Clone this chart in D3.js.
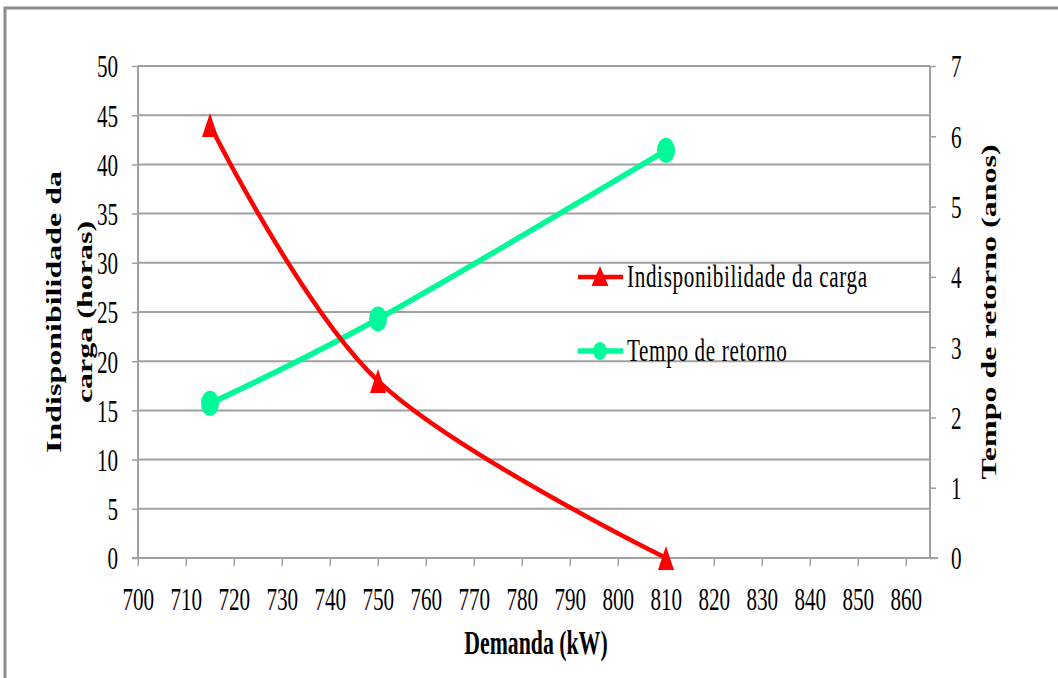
<!DOCTYPE html>
<html>
<head>
<meta charset="utf-8">
<script src="https://cdn.jsdelivr.net/npm/d3@7"></script>
<style>
  html, body { margin: 0; padding: 0; background: #fff; }
  svg { display: block; }
  text { font-family: "Liberation Serif", "Times New Roman", serif; fill: #000; }
</style>
</head>
<body>
<svg id="chart" width="1058" height="678"></svg>
<script>
// Demand (kW) at each simulated case
const demanda = [715, 750, 810];
// Load unavailability (hours) – left axis
const indisponibilidade = [44, 18, 0];
// Payback time (years) – right axis
const tempoRetorno = [2.2, 3.4, 5.8];

// Tick values
const xTicks = [700, 710, 720, 730, 740, 750, 760, 770, 780, 790, 800, 810, 820, 830, 840, 850, 860];
const yLeftTicks = [0, 5, 10, 15, 20, 25, 30, 35, 40, 45, 50];
const yRightTicks = [0, 1, 2, 3, 4, 5, 6, 7];

const seriesNames = ["Indisponibilidade da carga", "Tempo de retorno"];
const colors = { red: "#ff0000", green: "#00fa9a", grid: "#a0a0a0" };

// Everything is drawn inside a horizontally condensed group (narrow type).
const sx = 0.66;
const U = px => px / sx;          // screen px -> group units (x only)

const svg = d3.select("#chart");

// outer frame
svg.append("rect")
  .attr("x", 5).attr("y", 8).attr("width", 1070).attr("height", 700)
  .attr("fill", "#fff").attr("stroke", "#8c8c8c").attr("stroke-width", 3);

const g = svg.append("g").attr("transform", `scale(${sx},1)`);

const plotL = 138, plotR = 930, plotT = 66, plotB = 558;

const x = d3.scaleLinear().domain([700, 865]).range([U(plotL), U(plotR)]);
const yL = d3.scaleLinear().domain([0, 50]).range([plotB, plotT]);
const yR = d3.scaleLinear().domain([0, 7]).range([plotB, plotT]);

const nss = sel => sel.attr("vector-effect", "non-scaling-stroke");

// horizontal gridlines
g.append("g").selectAll("line").data(yLeftTicks).join("line")
  .attr("x1", U(plotL)).attr("x2", U(plotR))
  .attr("y1", d => yL(d)).attr("y2", d => yL(d))
  .attr("stroke", colors.grid).attr("stroke-width", 2)
  .call(nss);

function styleAxis(sel, size) {
  sel.select(".domain").remove();
  sel.selectAll(".tick line").attr("stroke", colors.grid).attr("stroke-width", 1.5)
    .attr("vector-effect", "non-scaling-stroke");
  sel.selectAll(".tick text").attr("font-size", size).attr("fill", "#000")
    .style("font-family", '"Liberation Serif", "Times New Roman", serif');
}

const fmt = d3.format("d");

// left axis
const axL = g.append("g").attr("transform", `translate(${U(plotL)},0)`)
  .call(d3.axisLeft(yL).tickValues(yLeftTicks).tickFormat(fmt)
    .tickSize(U(6)).tickPadding(U(14)).tickSizeOuter(0));
styleAxis(axL, 32);
axL.selectAll(".tick text").attr("dy", "0.34em");

// right axis
const axR = g.append("g").attr("transform", `translate(${U(plotR)},0)`)
  .call(d3.axisRight(yR).tickValues(yRightTicks).tickFormat(fmt)
    .tickSize(U(6)).tickPadding(U(15)).tickSizeOuter(0));
styleAxis(axR, 32);
axR.selectAll(".tick text").attr("dy", "0.34em");

// bottom axis
const axB = g.append("g").attr("transform", `translate(0,${plotB})`)
  .call(d3.axisBottom(x).tickValues(xTicks).tickSize(8).tickPadding(21).tickSizeOuter(0)
    .tickFormat(fmt));
styleAxis(axB, 32);

// axis lines
g.append("line").attr("x1", U(plotL)).attr("x2", U(plotL)).attr("y1", plotT).attr("y2", plotB)
  .attr("stroke", colors.grid).attr("stroke-width", 2).call(nss);
g.append("line").attr("x1", U(plotR)).attr("x2", U(plotR)).attr("y1", plotT).attr("y2", plotB)
  .attr("stroke", colors.grid).attr("stroke-width", 2).call(nss);
g.append("line").attr("x1", U(plotL - 6)).attr("x2", U(plotR + 8)).attr("y1", plotB).attr("y2", plotB)
  .attr("stroke", colors.grid).attr("stroke-width", 2).call(nss);

// series lines (smoothed)
const curve = d3.curveCatmullRom.alpha(0);
const redPts = demanda.map((d, i) => [x(d), yL(indisponibilidade[i])]);
const greenPts = demanda.map((d, i) => [x(d), yR(tempoRetorno[i])]);

g.append("path").datum(greenPts)
  .attr("d", d3.line().curve(curve))
  .attr("fill", "none").attr("stroke", colors.green).attr("stroke-width", 5.5)
  .attr("stroke-linejoin", "round").call(nss);

g.append("path").datum(redPts)
  .attr("d", d3.line().curve(curve))
  .attr("fill", "none").attr("stroke", colors.red).attr("stroke-width", 4.5)
  .attr("stroke-linejoin", "round").call(nss);

// markers
const tri = (w, h) => `M0,${-h / 2}L${w / 2},${h / 2}L${-w / 2},${h / 2}Z`;

g.append("g").selectAll("ellipse").data(greenPts).join("ellipse")
  .attr("cx", d => d[0]).attr("cy", d => d[1])
  .attr("rx", U(9)).attr("ry", 12.5).attr("fill", colors.green);

g.append("g").selectAll("path").data(redPts).join("path")
  .attr("transform", d => `translate(${d[0]},${d[1]})`)
  .attr("d", tri(U(16), 24)).attr("fill", colors.red);

// legend
const legend = g.append("g");
const legItems = [
  { name: seriesNames[0], color: colors.red, y: 277, w: 4.5, shape: "tri" },
  { name: seriesNames[1], color: colors.green, y: 351, w: 5.5, shape: "circ" }
];
legItems.forEach(it => {
  legend.append("line").attr("x1", U(578)).attr("x2", U(623))
    .attr("y1", it.y).attr("y2", it.y)
    .attr("stroke", it.color).attr("stroke-width", it.w).call(nss);
  if (it.shape === "tri") {
    legend.append("path").attr("transform", `translate(${U(600)},${it.y - 1})`)
      .attr("d", tri(U(17), 20)).attr("fill", it.color);
  } else {
    legend.append("ellipse").attr("cx", U(600)).attr("cy", it.y)
      .attr("rx", U(7)).attr("ry", 9).attr("fill", it.color);
  }
  legend.append("text").attr("x", U(627)).attr("y", it.y + 10)
    .attr("font-size", 32).attr("letter-spacing", 1).text(it.name);
});

// axis titles
g.append("text").attr("x", U(536)).attr("y", 654)
  .attr("text-anchor", "middle").attr("font-size", 33).attr("font-weight", "bold")
  .text("Demanda (kW)");

g.append("text").attr("text-anchor", "middle")
  .attr("font-size", 32).attr("font-weight", "bold")
  .attr("transform", `translate(${U(61)},312) rotate(-90)`)
  .text("Indisponibilidade da");
g.append("text").attr("text-anchor", "middle")
  .attr("font-size", 32).attr("font-weight", "bold")
  .attr("transform", `translate(${U(92)},312) rotate(-90)`)
  .text("carga (horas)");

g.append("text").attr("text-anchor", "middle")
  .attr("font-size", 32).attr("font-weight", "bold")
  .attr("transform", `translate(${U(996)},312) rotate(-90)`)
  .text("Tempo de retorno (anos)");
</script>
</body>
</html>
